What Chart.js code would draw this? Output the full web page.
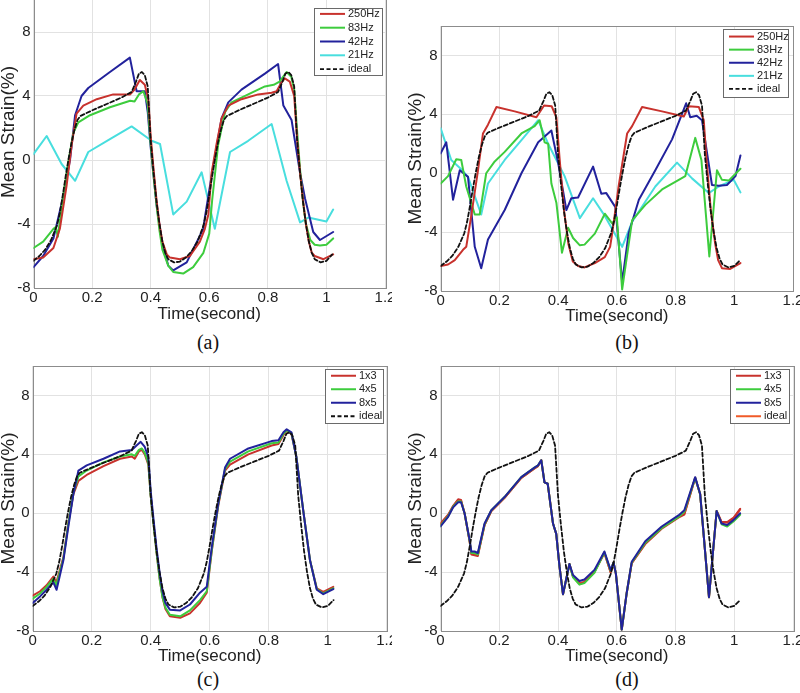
<!DOCTYPE html>
<html>
<head>
<meta charset="utf-8">
<script src="https://cdn.jsdelivr.net/npm/chart.js@4.4.0/dist/chart.umd.min.js"></script>
<style>
  body { margin: 0; background: #fff; }
  #fig { position: relative; width: 800px; height: 693px; overflow: hidden; background: #fff; }
  #fig canvas { position: absolute; }
  .cap { position: absolute; width: 60px; margin-left: -30px; text-align: center;
         font: 20px "Liberation Serif", "Times New Roman", serif; color: #111; line-height: 22px; }
</style>
</head>
<body>
<div id="fig">
  <canvas id="chartA" width="395" height="355" style="left:-3px;top:-30px"></canvas>
  <canvas id="chartB" width="396" height="307" style="left:404px;top:20px"></canvas>
  <canvas id="chartC" width="395" height="307" style="left:-3px;top:360px"></canvas>
  <canvas id="chartD" width="396" height="307" style="left:404px;top:360px"></canvas>
  <div class="cap" style="left:208px;top:331px">(a)</div>
  <div class="cap" style="left:627px;top:331px">(b)</div>
  <div class="cap" style="left:208px;top:668px">(c)</div>
  <div class="cap" style="left:627px;top:668px">(d)</div>
</div>
<script>
// axis ticks (shared by all four panels)
const xTicks = [0, 0.2, 0.4, 0.6, 0.8, 1, 1.2];
const yTicks = [-8, -4, 0, 4, 8];

// ideal strain curve, [time, strain]
const ideal = [[0,-6.3],[0.02,-6.0],[0.04,-5.6],[0.06,-5.0],[0.08,-4.1],[0.09,-3.3],[0.10,-2.2],[0.11,-1.0],
  [0.12,0.1],[0.13,1.1],[0.14,1.9],[0.15,2.5],[0.16,2.75],[0.2,3.1],[0.25,3.5],[0.3,3.9],[0.335,4.25],
  [0.35,4.9],[0.36,5.4],[0.37,5.5],[0.38,5.3],[0.39,4.6],[0.40,1.2],[0.41,-0.8],[0.42,-2.6],[0.43,-4.0],
  [0.44,-5.1],[0.45,-5.8],[0.46,-6.2],[0.48,-6.4],[0.50,-6.35],[0.52,-6.1],[0.54,-5.7],[0.56,-5.1],
  [0.58,-4.1],[0.59,-3.3],[0.60,-2.2],[0.61,-1.0],[0.62,0.1],[0.63,1.1],[0.64,1.9],[0.65,2.5],[0.66,2.75],
  [0.7,3.1],[0.75,3.5],[0.8,3.9],[0.835,4.25],[0.85,4.9],[0.86,5.4],[0.87,5.5],[0.88,5.3],[0.89,4.6],
  [0.90,1.2],[0.91,-0.8],[0.92,-2.6],[0.93,-4.0],[0.94,-5.1],[0.95,-5.8],[0.96,-6.2],[0.98,-6.4],
  [1.0,-6.3],[1.02,-5.9]];

// (a) sampling rates, panel 1
const a250 = [[0,-6.2],[0.033,-6.1],[0.068,-5.5],[0.09,-4.3],[0.113,-1.6],[0.13,0.9],[0.147,2.9],[0.17,3.4],
  [0.216,3.8],[0.272,4.1],[0.33,4.1],[0.345,4.4],[0.363,5.0],[0.38,4.7],[0.392,3.8],[0.40,1.5],[0.41,-0.6],
  [0.42,-2.5],[0.43,-4.0],[0.44,-5.1],[0.455,-5.9],[0.466,-6.1],[0.5,-6.2],[0.534,-6.0],[0.568,-5.1],
  [0.585,-4.3],[0.597,-3.4],[0.608,-0.8],[0.625,1.0],[0.642,2.6],[0.665,3.4],[0.71,3.8],[0.767,4.1],
  [0.813,4.2],[0.83,4.3],[0.845,4.8],[0.858,5.1],[0.875,4.9],[0.89,4.0],[0.90,1.3],[0.91,-0.8],[0.92,-2.5],
  [0.93,-4.0],[0.94,-5.1],[0.95,-5.8],[0.96,-6.0],[0.99,-6.2],[1.023,-5.9]];
const a83 = [[0,-5.5],[0.033,-5.1],[0.068,-4.3],[0.076,-4.2],[0.083,-4.8],[0.10,-2.4],[0.12,0],[0.136,1.7],
  [0.153,2.35],[0.193,2.8],[0.261,3.3],[0.33,3.7],[0.345,3.65],[0.36,4.1],[0.375,4.3],[0.39,3.5],[0.40,1.0],
  [0.41,-1.0],[0.42,-2.8],[0.43,-4.4],[0.44,-5.6],[0.46,-6.6],[0.477,-7.0],[0.511,-7.1],[0.545,-6.7],
  [0.58,-5.8],[0.6,-4.6],[0.61,-2.5],[0.63,0.9],[0.654,3.0],[0.676,3.6],[0.733,4.1],[0.79,4.6],[0.82,4.7],
  [0.84,4.9],[0.864,5.5],[0.88,5.2],[0.89,4.4],[0.9,1.8],[0.91,-0.6],[0.92,-2.6],[0.93,-4.0],[0.945,-5.0],
  [0.96,-5.3],[0.978,-5.35],[1.0,-5.3],[1.023,-4.9]];
const a42 = [[0,-6.7],[0.033,-6.0],[0.068,-4.9],[0.10,-2.4],[0.125,0.05],[0.142,2.8],[0.164,4.0],[0.187,4.5],
  [0.261,5.5],[0.329,6.4],[0.352,4.3],[0.38,4.3],[0.39,3.0],[0.40,0.8],[0.42,-2.8],[0.44,-5.3],[0.46,-6.6],
  [0.477,-6.9],[0.523,-6.4],[0.58,-4.3],[0.585,-3.6],[0.608,-1.0],[0.642,2.6],[0.665,3.6],[0.71,4.4],
  [0.79,5.4],[0.835,6.0],[0.853,3.4],[0.881,2.5],[0.91,-0.8],[0.927,-2.4],[0.955,-4.5],[0.978,-5.0],
  [1.023,-4.5]];
const a21 = [[0,0.37],[0.045,1.5],[0.096,-0.25],[0.142,-1.3],[0.187,0.5],[0.261,1.3],[0.335,2.1],[0.403,1.2],
  [0.432,1.0],[0.477,-3.4],[0.523,-2.6],[0.574,-0.77],[0.619,-4.3],[0.671,0.5],[0.733,1.2],[0.813,2.25],
  [0.864,-1.3],[0.91,-3.9],[0.938,-3.6],[1.0,-3.85],[1.023,-3.1]];

// (b) sampling rates, panel 2
const b250 = [[0,-6.3],[0.025,-6.2],[0.048,-5.9],[0.076,-5.2],[0.087,-5.0],[0.104,-2.9],[0.127,0.2],[0.144,2.7],
  [0.161,3.3],[0.19,4.5],[0.252,4.2],[0.326,3.8],[0.352,4.6],[0.378,4.55],[0.394,3.8],[0.405,1.0],[0.42,-2.5],
  [0.435,-4.8],[0.45,-6.0],[0.468,-6.3],[0.49,-6.4],[0.525,-6.1],[0.559,-5.7],[0.577,-5.0],[0.584,-4.1],
  [0.606,-0.9],[0.635,2.7],[0.652,3.2],[0.686,4.5],[0.754,4.2],[0.828,3.85],[0.845,4.55],[0.879,4.5],
  [0.896,3.6],[0.905,1.0],[0.92,-2.5],[0.935,-4.8],[0.945,-5.9],[0.958,-6.45],[0.986,-6.5],[1.021,-6.1]];
const b83 = [[0,-0.7],[0.025,-0.2],[0.053,0.95],[0.07,0.9],[0.087,-0.9],[0.116,-2.8],[0.133,-2.8],[0.155,0],
  [0.184,0.8],[0.218,1.45],[0.275,2.7],[0.32,3.2],[0.337,3.6],[0.354,2.1],[0.366,2.0],[0.377,-0.7],
  [0.394,-2.0],[0.413,-5.4],[0.434,-3.7],[0.451,-4.4],[0.474,-4.9],[0.49,-4.85],[0.525,-4.1],[0.559,-2.75],
  [0.584,-3.4],[0.6,-3.0],[0.618,-7.9],[0.652,-3.2],[0.697,-2.15],[0.754,-1.1],[0.811,-0.45],[0.833,-0.2],
  [0.867,2.4],[0.888,0.9],[0.915,-5.65],[0.941,0.2],[0.958,-0.45],[0.981,-0.5],[1.021,0.3]];
const b42 = [[0,1.35],[0.019,2.1],[0.042,-1.8],[0.065,0.2],[0.093,-0.25],[0.116,-5.0],[0.138,-6.45],
  [0.161,-4.5],[0.218,-2.5],[0.275,0.0],[0.332,2.1],[0.377,2.9],[0.4,0.7],[0.428,-2.5],[0.445,-1.7],
  [0.468,-1.65],[0.519,0.45],[0.547,-1.4],[0.564,-1.35],[0.595,-2.3],[0.618,-7.4],[0.64,-4.1],[0.675,-1.8],
  [0.731,0.2],[0.788,2.3],[0.836,4.75],[0.85,3.8],[0.872,3.9],[0.89,3.6],[0.924,-0.8],[0.947,-0.85],
  [0.975,-0.8],[1.004,-0.2],[1.021,1.2]];
const b21 = [[0,3.05],[0.036,0.9],[0.07,0.27],[0.093,-0.25],[0.138,-2.8],[0.161,-0.7],[0.218,0.9],[0.275,2.25],
  [0.332,3.6],[0.366,2.0],[0.422,-0.2],[0.474,-3.05],[0.519,-1.7],[0.559,-2.9],[0.618,-5.0],[0.652,-3.3],
  [0.731,-0.9],[0.805,0.72],[0.856,-0.35],[0.913,-1.35],[0.947,-0.9],[0.998,-0.45],[1.021,-1.3]];

// (c) grid sizes, panel 3
const c1x3 = [[0,-5.6],[0.025,-5.3],[0.047,-4.9],[0.07,-4.3],[0.08,-4.7],[0.104,-3.0],[0.121,-0.6],[0.138,1.3],
  [0.155,2.2],[0.183,2.6],[0.24,3.2],[0.296,3.7],[0.336,3.85],[0.346,3.7],[0.36,4.2],[0.37,4.3],[0.38,4.0],
  [0.392,3.3],[0.40,1.2],[0.41,-0.8],[0.42,-2.7],[0.43,-4.4],[0.44,-5.7],[0.45,-6.5],[0.465,-7.0],[0.5,-7.1],
  [0.533,-6.8],[0.567,-6.1],[0.59,-5.4],[0.607,-2.6],[0.629,0.5],[0.652,2.9],[0.669,3.3],[0.731,4.0],
  [0.81,4.6],[0.833,4.7],[0.85,5.3],[0.861,5.6],[0.877,5.4],[0.894,3.8],[0.917,0.2],[0.94,-3.2],
  [0.963,-5.1],[0.985,-5.35],[1.019,-5.0]];
const c4x5 = [[0,-5.8],[0.025,-5.45],[0.047,-5.0],[0.07,-4.45],[0.08,-4.9],[0.104,-3.1],[0.121,-0.7],[0.138,1.4],
  [0.155,2.5],[0.183,2.9],[0.24,3.45],[0.296,3.85],[0.336,4.0],[0.346,3.9],[0.36,4.3],[0.37,4.4],[0.38,4.1],
  [0.392,3.4],[0.40,1.2],[0.41,-0.8],[0.42,-2.7],[0.43,-4.4],[0.44,-5.7],[0.45,-6.4],[0.465,-6.9],[0.5,-7.0],
  [0.533,-6.6],[0.567,-5.9],[0.59,-5.3],[0.607,-2.5],[0.629,0.6],[0.652,3.0],[0.669,3.5],[0.731,4.2],
  [0.81,4.75],[0.833,4.8],[0.85,5.4],[0.861,5.65],[0.877,5.45],[0.894,3.8],[0.917,0.2],[0.94,-3.2],
  [0.963,-5.15],[0.985,-5.45],[1.019,-5.1]];
const c8x5 = [[0,-6.1],[0.025,-5.65],[0.047,-5.2],[0.07,-4.7],[0.081,-5.2],[0.104,-3.2],[0.121,-0.9],[0.138,1.3],
  [0.155,2.9],[0.183,3.25],[0.24,3.7],[0.296,4.2],[0.336,4.3],[0.352,4.6],[0.366,4.85],[0.38,4.5],[0.392,3.8],
  [0.40,1.5],[0.41,-0.5],[0.42,-2.4],[0.43,-4.0],[0.44,-5.3],[0.45,-6.1],[0.465,-6.55],[0.5,-6.6],
  [0.533,-6.2],[0.567,-5.4],[0.59,-5.0],[0.607,-2.3],[0.629,0.65],[0.652,3.1],[0.669,3.7],[0.731,4.4],
  [0.81,4.9],[0.833,4.95],[0.85,5.5],[0.861,5.7],[0.877,5.5],[0.894,3.8],[0.917,0.2],[0.94,-3.2],
  [0.963,-5.2],[0.985,-5.5],[1.019,-5.15]];

// (d) grid sizes, panel 4
const d1x3 = [[0,-0.7],[0.026,-0.1],[0.043,0.5],[0.06,0.95],[0.07,0.9],[0.082,0],[0.099,-1.9],[0.105,-2.8],
  [0.116,-2.85],[0.127,-2.9],[0.15,-0.8],[0.173,0.15],[0.218,1.05],[0.275,2.4],[0.32,3.05],[0.332,3.2],
  [0.343,3.6],[0.354,2.1],[0.365,2.0],[0.383,-0.7],[0.394,-1.4],[0.405,-3.6],[0.417,-5.5],[0.439,-3.45],
  [0.451,-4.3],[0.473,-4.8],[0.49,-4.7],[0.524,-4.0],[0.558,-2.7],[0.579,-4.0],[0.589,-3.35],[0.597,-4.1],
  [0.617,-7.9],[0.634,-5.4],[0.651,-3.4],[0.697,-2.1],[0.753,-1.05],[0.81,-0.3],[0.83,-0.1],[0.867,2.4],
  [0.884,1.3],[0.914,-5.7],[0.94,0.15],[0.957,-0.6],[0.976,-0.6],[0.998,-0.3],[1.02,0.3]];
const d4x5 = [[0,-0.85],[0.026,-0.2],[0.043,0.45],[0.06,0.8],[0.07,0.8],[0.082,0],[0.099,-1.85],[0.105,-2.7],
  [0.116,-2.7],[0.127,-2.8],[0.15,-0.75],[0.173,0.2],[0.218,1.1],[0.275,2.45],[0.32,3.1],[0.332,3.25],
  [0.343,3.6],[0.354,2.1],[0.365,2.0],[0.383,-0.7],[0.394,-1.4],[0.405,-3.6],[0.417,-5.5],[0.439,-3.45],
  [0.451,-4.35],[0.473,-4.85],[0.49,-4.75],[0.524,-4.05],[0.558,-2.65],[0.579,-3.9],[0.589,-3.35],
  [0.597,-4.1],[0.617,-7.9],[0.634,-5.4],[0.651,-3.35],[0.697,-2.0],[0.753,-1.0],[0.81,-0.25],[0.83,0.1],
  [0.867,2.4],[0.884,1.3],[0.914,-5.7],[0.94,0.15],[0.957,-0.75],[0.976,-0.9],[0.998,-0.55],[1.02,-0.1]];
const d8x5 = [[0,-0.9],[0.026,-0.25],[0.043,0.4],[0.06,0.75],[0.07,0.75],[0.082,0],[0.099,-1.8],[0.105,-2.6],
  [0.116,-2.6],[0.127,-2.7],[0.15,-0.7],[0.173,0.2],[0.218,1.1],[0.275,2.45],[0.32,3.1],[0.332,3.25],
  [0.343,3.6],[0.354,2.1],[0.365,2.0],[0.383,-0.7],[0.394,-1.4],[0.405,-3.6],[0.417,-5.5],[0.439,-3.45],
  [0.451,-4.2],[0.473,-4.6],[0.49,-4.5],[0.524,-3.85],[0.558,-2.6],[0.579,-3.85],[0.589,-3.35],[0.597,-4.1],
  [0.617,-7.9],[0.634,-5.4],[0.651,-3.3],[0.697,-1.9],[0.753,-0.9],[0.81,-0.15],[0.83,0.2],[0.867,2.45],
  [0.884,1.3],[0.914,-5.7],[0.94,0.15],[0.957,-0.7],[0.976,-0.8],[0.998,-0.45],[1.02,0.0]];
const dIdeal = [[0,-0.75],[0.026,-0.15],[0.043,0.45],[0.06,0.9],[0.07,0.85],[0.082,0],[0.099,-1.9],
  [0.105,-2.75],[0.116,-2.8],[0.127,-2.85],[0.15,-0.8],[0.173,0.15],[0.218,1.05],[0.275,2.4],[0.32,3.05],
  [0.332,3.2],[0.343,3.6],[0.354,2.1],[0.365,2.0],[0.383,-0.7],[0.394,-1.4],[0.405,-3.6],[0.417,-5.5],
  [0.439,-3.45],[0.451,-4.3],[0.473,-4.75],[0.49,-4.65],[0.524,-3.95],[0.558,-2.7],[0.579,-4.0],
  [0.589,-3.35],[0.597,-4.1],[0.617,-7.9],[0.634,-5.4],[0.651,-3.4],[0.697,-2.05],[0.753,-1.0],
  [0.81,-0.25],[0.83,-0.05],[0.867,2.4],[0.884,1.3],[0.914,-5.7],[0.94,0.15],[0.957,-0.6],[0.976,-0.65],
  [0.998,-0.35],[1.02,0.25]];

const RED = '#c8322d', GREEN = '#3dcc3d', BLUE = '#22229c', CYAN = '#48dede', BLACK = '#111', ORANGE = '#f05a28';
const FONT = '"Liberation Sans", Arial, sans-serif';

function toXY(pairs) {
    return pairs.map(p => ({ x: p[0], y: p[1] }));
}

function solid(label, pairs, color, order) {
    return { label: label, data: toXY(pairs), borderColor: color, borderWidth: 2, order: order };
}

function dashed(label, pairs, extra) {
    return Object.assign({ label: label, data: toXY(pairs), borderColor: BLACK, borderWidth: 1.8,
        borderDash: [4, 2.5], order: 0 }, extra || {});
}

// box around the plot area, like a MATLAB axes
const frame = {
    id: 'frame',
    beforeDatasetsDraw(chart) {
        const { ctx, chartArea: a } = chart;
        ctx.save();
        ctx.strokeStyle = '#8c8c8c';
        ctx.lineWidth = 1;
        ctx.strokeRect(Math.round(a.left) + 0.5, Math.round(a.top) + 0.5, Math.round(a.width), Math.round(a.height));
        ctx.restore();
    }
};

// legend box in the top right corner of the plot area
const boxLegend = {
    id: 'boxLegend',
    afterDatasetsDraw(chart, args, opts) {
        const { ctx, chartArea: a } = chart;
        const items = chart.data.datasets.filter(d => !d.noLegend);
        const right = Math.round(a.right - opts.right);
        const left = right - opts.width;
        const top = Math.round(a.top + opts.top);
        const h = Math.round(items.length * opts.rowH + 2 * opts.padY);
        ctx.save();
        ctx.fillStyle = '#fff';
        ctx.fillRect(left, top, opts.width, h);
        ctx.strokeStyle = '#6a6a6a';
        ctx.lineWidth = 1;
        ctx.strokeRect(left + 0.5, top + 0.5, opts.width, h);
        ctx.font = '11px ' + FONT;
        ctx.textBaseline = 'middle';
        items.forEach((d, i) => {
            const y = top + opts.padY + opts.rowH * (i + 0.5);
            ctx.strokeStyle = d.borderColor;
            ctx.lineWidth = d.borderWidth;
            ctx.setLineDash(d.borderDash || []);
            ctx.beginPath();
            ctx.moveTo(left + 6, y);
            ctx.lineTo(left + 31, y);
            ctx.stroke();
            ctx.fillStyle = '#222';
            ctx.fillText(d.label, left + 34, y);
        });
        ctx.restore();
    }
};

function buildChart(id, datasets, box) {
    return new Chart(document.getElementById(id), {
        type: 'line',
        data: { datasets: datasets },
        options: {
            responsive: false,
            animation: false,
            devicePixelRatio: 1,
            layout: { padding: { top: box.padTop, right: box.padRight, left: 0, bottom: 0 } },
            elements: { point: { radius: 0 }, line: { tension: 0, borderCapStyle: 'round', borderJoinStyle: 'round' } },
            plugins: {
                legend: { display: false },
                tooltip: { enabled: false },
                boxLegend: box.legend
            },
            scales: {
                x: {
                    type: 'linear', min: 0, max: 1.2,
                    grid: { color: '#e2e2e2', drawTicks: false },
                    border: { display: false },
                    ticks: { padding: 1, color: '#222', font: { family: FONT, size: 15 },
                             callback: v => String(Number(v.toFixed(1))) },
                    title: { display: true, text: 'Time(second)', color: '#222', padding: 0,
                             font: { family: FONT, size: 17 } },
                    afterBuildTicks: s => { s.ticks = xTicks.map(v => ({ value: v })); },
                    afterFit: s => { s.height = box.xAxisH; s.paddingLeft = 0; s.paddingRight = 0; }
                },
                y: {
                    type: 'linear', min: -8, max: box.yMax,
                    grid: { color: '#e2e2e2', drawTicks: false },
                    border: { display: false },
                    ticks: { padding: 3, color: '#222', font: { family: FONT, size: 15 } },
                    title: { display: true, text: 'Mean Strain(%)', color: '#222', padding: 0,
                             font: { family: FONT, size: 19 } },
                    afterBuildTicks: s => { s.ticks = yTicks.map(v => ({ value: v })); },
                    afterFit: s => { s.width = box.yAxisW; s.paddingTop = 0; s.paddingBottom = 0; }
                }
            }
        },
        plugins: [frame, boxLegend]
    });
}

buildChart('chartA', [
    solid('250Hz', a250, RED, 1),
    solid('83Hz', a83, GREEN, 2),
    solid('42Hz', a42, BLUE, 3),
    solid('21Hz', a21, CYAN, 4),
    dashed('ideal', ideal)
], { padTop: 6, padRight: 7, xAxisH: 37, yAxisW: 36.5, yMax: 11.5,
     legend: { right: 3, top: 32, width: 68, rowH: 13.8, padY: -1 } });

buildChart('chartB', [
    solid('250Hz', b250, RED, 1),
    solid('83Hz', b83, GREEN, 2),
    solid('42Hz', b42, BLUE, 3),
    solid('21Hz', b21, CYAN, 4),
    dashed('ideal', ideal)
], { padTop: 6, padRight: 7, xAxisH: 36, yAxisW: 36.7, yMax: 10,
     legend: { right: 5, top: 3, width: 65, rowH: 13.1, padY: 1 } });

buildChart('chartC', [
    solid('1x3', c1x3, RED, 3),
    solid('4x5', c4x5, GREEN, 2),
    solid('8x5', c8x5, BLUE, 1),
    dashed('ideal', ideal)
], { padTop: 6, padRight: 5.3, xAxisH: 36, yAxisW: 35.7, yMax: 10,
     legend: { right: 4, top: 3, width: 58, rowH: 13.5, padY: 0 } });

buildChart('chartD', [
    solid('1x3', d1x3, RED, 3),
    solid('4x5', d4x5, GREEN, 2),
    solid('8x5', d8x5, BLUE, 1),
    solid('ideal', dIdeal, ORANGE, 4),
    dashed('', ideal, { noLegend: true })
], { padTop: 6, padRight: 7, xAxisH: 36, yAxisW: 36.5, yMax: 10,
     legend: { right: 4, top: 3, width: 59, rowH: 13.5, padY: 0 } });
</script>
</body>
</html>
